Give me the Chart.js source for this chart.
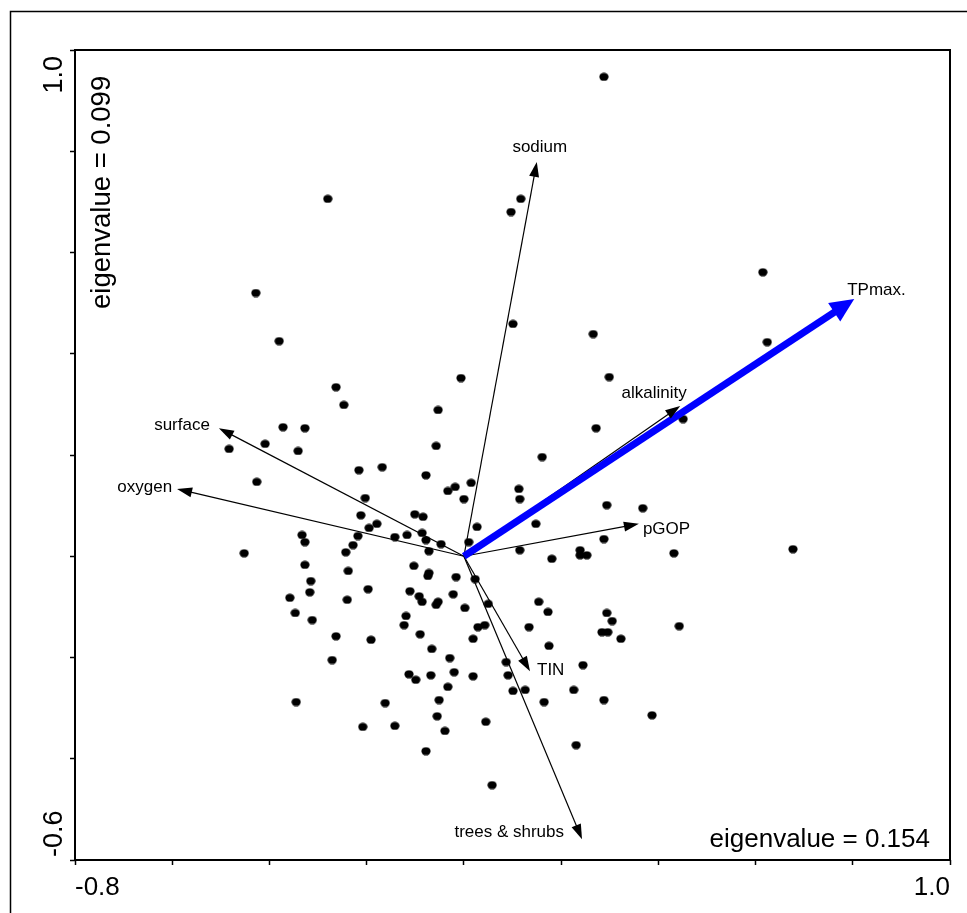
<!DOCTYPE html>
<html>
<head>
<meta charset="utf-8">
<title>Ordination biplot</title>
<script src="https://cdn.jsdelivr.net/npm/chart.js@4.4.0/dist/chart.umd.min.js"></script>
<style>
  html, body { margin: 0; padding: 0; background: #fff; }
  #wrap { width: 967px; height: 913px; position: relative; }
</style>
</head>
<body>
<div id="wrap"><canvas id="biplot" width="967" height="913"></canvas></div>
<script>
// site scores (axis 1, axis 2)
const siteX = [
  -0.280, -0.428, -0.380, -0.263, -0.247, -0.006, -0.053,
  0.288, 0.117, 0.097, 0.615, 0.101, 0.266, 0.624, 0.299, 0.451,
  -0.372, -0.327, -0.483, -0.409, -0.341, -0.216, -0.168, -0.426, -0.203, -0.212,
  -0.179, -0.195, -0.142, -0.218, -0.228, -0.243, -0.333, -0.327, -0.452, -0.327,
  -0.238, -0.315, -0.317, -0.197, -0.358, -0.240, -0.347, -0.312,
  -0.057, 0.272, 0.161, -0.078, -0.018, -0.033, 0.015, 0.000, 0.113, 0.115,
  0.027, 0.148, -0.101, -0.084, -0.117, -0.086, -0.078, -0.047, -0.072, 0.010,
  0.115, 0.181, 0.239, 0.239, 0.253, -0.103, -0.072, -0.074, -0.016, 0.023,
  -0.111, -0.092, -0.086, -0.053, -0.057, -0.022, 0.002, 0.050, 0.154, 0.173, -0.119,
  0.294, 0.368, 0.288, 0.432, 0.677, 0.294, 0.305, 0.296, 0.284, 0.323, 0.443,
  -0.123, -0.263, -0.191, -0.090, -0.066, -0.271, -0.113, -0.099, -0.068, -0.345,
  -0.162, -0.051, -0.055, -0.208, -0.142, -0.078,
  0.029, 0.043, 0.134, 0.019, 0.175, -0.029, 0.087, 0.245, -0.020, 0.019, 0.091,
  -0.033, 0.101, 0.126, 0.226, 0.165, 0.288, 0.045, 0.387, -0.039, 0.231, 0.058
];
const siteY = [
  0.706, 0.520, 0.425, 0.334, 0.299, 0.352, 0.289,
  0.947, 0.706, 0.680, 0.561, 0.459, 0.439, 0.423, 0.354, 0.271,
  0.255, 0.253, 0.212, 0.222, 0.208, 0.170, 0.176, 0.147, 0.115, 0.081,
  0.064, 0.056, 0.038, 0.040, 0.022, 0.008, 0.042, 0.028, 0.006, -0.017,
  -0.029, -0.049, -0.071, -0.065, -0.082, -0.086, -0.112, -0.126,
  0.218, 0.253, 0.196, 0.160, 0.137, 0.129, 0.145, 0.113, 0.133, 0.113,
  0.058, 0.064, 0.083, 0.078, 0.042, 0.046, 0.032, 0.024, 0.010, 0.028,
  0.012, -0.005, 0.012, 0.002, 0.002, -0.019, -0.033, -0.039, -0.041, -0.045,
  -0.069, -0.079, -0.090, -0.090, -0.096, -0.075, -0.102, -0.094, -0.090, -0.110, -0.118,
  0.101, 0.095, 0.034, 0.006, 0.014, -0.112, -0.128, -0.150, -0.150, -0.163, -0.138,
  -0.136, -0.158, -0.165, -0.154, -0.183, -0.205, -0.233, -0.244, -0.235, -0.288,
  -0.290, -0.284, -0.316, -0.337, -0.335, -0.385,
  -0.140, -0.136, -0.140, -0.163, -0.177, -0.201, -0.209, -0.215, -0.229, -0.237, -0.235,
  -0.258, -0.266, -0.264, -0.264, -0.288, -0.284, -0.327, -0.314, -0.345, -0.373, -0.452
];

// environmental variable arrows (tips, arrows start at the origin)
const arrowNames = ["sodium", "TPmax.", "alkalinity", "pGOP", "TIN", "trees & shrubs", "surface", "oxygen"];
const arrowX = [0.150, 0.803, 0.445, 0.360, 0.136, 0.243, -0.504, -0.590];
const arrowY = [0.779, 0.508, 0.297, 0.064, -0.227, -0.559, 0.253, 0.133];
const highlighted = "TPmax.";

const xTickLabels = ["-0.8", "1.0"];
const yTickLabels = ["-0.6", "1.0"];
const xAxisTitle = "eigenvalue = 0.154";
const yAxisTitle = "eigenvalue = 0.099";

const FONT = '"Liberation Sans", Arial, Helvetica, sans-serif';
const BLUE = "#0000ff";

// where each arrow label sits relative to its tip (pixels)
const labelPlacement = {
  "sodium": { align: "center", dx: 3, dy: -15 },
  "TPmax.": { align: "left", dx: -7, dy: -9 },
  "alkalinity": { align: "center", dx: -26, dy: -13 },
  "pGOP": { align: "left", dx: 4, dy: 5 },
  "TIN": { align: "left", dx: 7, dy: -1 },
  "trees & shrubs": { align: "right", dx: -18, dy: -7 },
  "surface": { align: "right", dx: -9, dy: -3 },
  "oxygen": { align: "right", dx: -5, dy: -2 }
};

// slightly flattened dot, like the original markers
const dot = document.createElement("canvas");
dot.width = 10;
dot.height = 9;
(function () {
  const c = dot.getContext("2d");
  c.fillStyle = "#000";
  c.beginPath();
  c.ellipse(5, 4.5, 4.6, 4.1, 0, 0, Math.PI * 2);
  c.fill();
})();

function headSize(name) {
  return name === highlighted ? { len: 24, half: 11 } : { len: 15, half: 5 };
}

function tipPixels(chart, i) {
  const xs = chart.scales.x;
  const ys = chart.scales.y;
  const ox = xs.getPixelForValue(0);
  const oy = ys.getPixelForValue(0);
  const tx = xs.getPixelForValue(arrowX[i]);
  const ty = ys.getPixelForValue(arrowY[i]);
  const ang = Math.atan2(ty - oy, tx - ox);
  return { ox, oy, tx, ty, ang };
}

const sites = siteX.map((x, i) => ({ x, y: siteY[i] }));

const arrowSets = arrowNames.map((name, i) => ({
  label: name,
  arrowIndex: i,
  data: [{ x: 0, y: 0 }, { x: arrowX[i], y: arrowY[i] }],
  showLine: true,
  borderColor: name === highlighted ? BLUE : "#000",
  backgroundColor: name === highlighted ? BLUE : "#000",
  borderWidth: name === highlighted ? 7 : 1.2,
  borderCapStyle: "butt",
  pointRadius: 0,
  order: name === highlighted ? 0 : 1
}));

const biplotExtras = {
  id: "biplotExtras",
  afterDatasetsUpdate(chart) {
    // stop each shaft at the base of its arrow head
    chart.data.datasets.forEach((ds, di) => {
      if (ds.arrowIndex === undefined) return;
      const meta = chart.getDatasetMeta(di);
      const t = tipPixels(chart, ds.arrowIndex);
      const h = headSize(ds.label);
      const end = meta.data[1];
      end.x = t.tx - (h.len - 1) * Math.cos(t.ang);
      end.y = t.ty - (h.len - 1) * Math.sin(t.ang);
    });
  },
  afterDatasetsDraw(chart) {
    const ctx = chart.ctx;
    ctx.save();
    arrowNames.forEach((name, i) => {
      const t = tipPixels(chart, i);
      const h = headSize(name);
      const c = Math.cos(t.ang);
      const s = Math.sin(t.ang);
      const bx = t.tx - h.len * c;
      const by = t.ty - h.len * s;
      ctx.fillStyle = name === highlighted ? BLUE : "#000";
      ctx.beginPath();
      ctx.moveTo(t.tx, t.ty);
      ctx.lineTo(bx - h.half * s, by + h.half * c);
      ctx.lineTo(bx + h.half * s, by - h.half * c);
      ctx.closePath();
      ctx.fill();

      const p = labelPlacement[name];
      ctx.fillStyle = "#000";
      ctx.font = "17px " + FONT;
      ctx.textAlign = p.align;
      ctx.textBaseline = "middle";
      ctx.fillText(name, t.tx + p.dx, t.ty + p.dy);
    });
    ctx.restore();
  },
  afterDraw(chart) {
    const ctx = chart.ctx;
    const a = chart.chartArea;
    const xs = chart.scales.x;
    const ys = chart.scales.y;
    ctx.save();

    // outer frame
    ctx.strokeStyle = "#000";
    ctx.lineWidth = 1.5;
    ctx.beginPath();
    ctx.moveTo(10.5, chart.height);
    ctx.lineTo(10.5, 11.5);
    ctx.lineTo(chart.width, 11.5);
    ctx.stroke();

    // plot box
    ctx.lineWidth = 2;
    ctx.strokeRect(a.left, a.top, a.right - a.left, a.bottom - a.top);

    ctx.fillStyle = "#000";
    ctx.font = "26px " + FONT;
    ctx.textBaseline = "alphabetic";

    xTickLabels.forEach((lab) => {
      const v = parseFloat(lab);
      ctx.textAlign = v <= xs.min ? "left" : v >= xs.max ? "right" : "center";
      ctx.fillText(lab, xs.getPixelForValue(v), a.bottom + 35);
    });

    ctx.font = "27px " + FONT;
    yTickLabels.forEach((lab) => {
      const v = parseFloat(lab);
      ctx.save();
      ctx.translate(a.left - 13, ys.getPixelForValue(v) + (v <= ys.min ? -3 : 6));
      ctx.rotate(-Math.PI / 2);
      ctx.textAlign = v <= ys.min ? "left" : v >= ys.max ? "right" : "center";
      ctx.fillText(lab, 0, 0);
      ctx.restore();
    });

    ctx.font = "26px " + FONT;
    ctx.textAlign = "right";
    ctx.fillText(xAxisTitle, a.right - 20, a.bottom - 13);

    ctx.font = "27.5px " + FONT;
    ctx.save();
    ctx.translate(a.left + 35, a.bottom - 551);
    ctx.rotate(-Math.PI / 2);
    ctx.textAlign = "left";
    ctx.fillText(yAxisTitle, 0, 0);
    ctx.restore();

    ctx.restore();
  }
};

new Chart(document.getElementById("biplot"), {
  type: "scatter",
  data: {
    datasets: [
      ...arrowSets,
      {
        label: "sites",
        data: sites,
        pointStyle: dot,
        pointRadius: 4.5,
        pointHoverRadius: 4.5,
        pointBorderWidth: 0,
        pointBackgroundColor: "#000",
        pointBorderColor: "#000",
        order: 2
      }
    ]
  },
  options: {
    responsive: false,
    animation: false,
    events: [],
    layout: { padding: { top: 50, right: 17, left: 0, bottom: 0 } },
    plugins: {
      legend: { display: false },
      tooltip: { enabled: false }
    },
    scales: {
      x: {
        type: "linear",
        min: -0.8,
        max: 1.0,
        afterFit: (scale) => { scale.height = 53; },
        ticks: { stepSize: 0.2, display: false },
        border: { display: false },
        grid: { drawOnChartArea: false, drawTicks: true, tickLength: 5, tickWidth: 1.5, tickColor: "#000" }
      },
      y: {
        type: "linear",
        min: -0.6,
        max: 1.0,
        afterFit: (scale) => { scale.width = 75; },
        ticks: { stepSize: 0.2, display: false },
        border: { display: false },
        grid: { drawOnChartArea: false, drawTicks: true, tickLength: 5, tickWidth: 1.5, tickColor: "#000" }
      }
    }
  },
  plugins: [biplotExtras]
});
</script>
</body>
</html>
